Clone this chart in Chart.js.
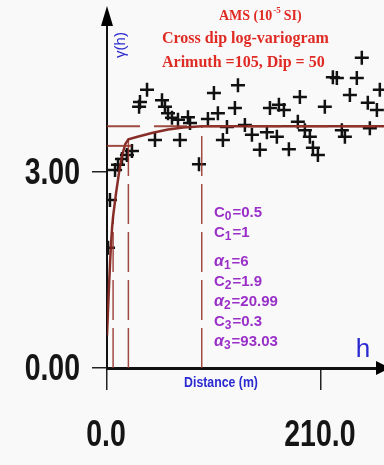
<!DOCTYPE html>
<html>
<head>
<meta charset="utf-8">
<script src="https://cdn.jsdelivr.net/npm/chart.js@4.4.1/dist/chart.umd.min.js"></script>
<style>
  html, body { margin: 0; padding: 0; background: #f9f9f9; }
  canvas { display: block; }
</style>
</head>
<body>
<canvas id="vario" width="384" height="465"></canvas>
<script>
// experimental variogram points (distance in m, gamma)
const lagDist = [1.0, 2.9, 7.9, 10.8, 14.7, 19.6, 24.5, 32.4, 31.5, 39.3, 47.1, 54.0, 56.9, 59.9,
  63.8, 69.7, 71.6, 79.5, 81.5, 90.3, 99.1, 105.0, 108.9, 113.8, 117.8, 125.6, 128.6, 135.4,
  142.3, 150.1, 157.0, 160.0, 168.8, 166.8, 173.7, 178.6, 187.4, 189.4, 194.3, 199.2, 202.2,
  207.1, 213.9, 221.8, 225.7, 230.6, 233.6, 238.5, 245.3, 250.2, 256.1, 258.1, 265.0, 267.9];
const lagGamma = [1.84, 2.57, 3.03, 3.11, 3.20, 3.26, 3.32, 4.07, 4.00, 4.26, 3.49, 4.10, 4.00, 3.90,
  3.83, 3.80, 3.49, 3.84, 3.75, 3.12, 3.81, 4.21, 3.90, 3.49, 3.69, 3.98, 4.33, 3.72,
  3.57, 3.34, 3.61, 3.98, 4.03, 3.54, 3.95, 3.35, 3.77, 4.15, 3.64, 3.54, 3.37,
  3.26, 4.00, 4.45, 4.44, 3.64, 3.54, 4.18, 4.44, 4.75, 4.06, 3.67, 3.95, 4.26];

// fitted model curve
const modelDist = [0, 1, 2, 3, 4, 5, 6, 9, 12, 15, 18, 21, 30, 45, 60, 75, 93, 272];
const modelGamma = [0.5, 0.89, 1.26, 1.61, 1.91, 2.15, 2.32, 2.69, 3.01, 3.26, 3.43, 3.50,
  3.54, 3.60, 3.65, 3.68, 3.70, 3.70];

// model parameters
const paramLabels = [['C', '0'], ['C', '1'], ['\u03b1', '1'], ['C', '2'], ['\u03b1', '2'], ['C', '3'], ['\u03b1', '3']];
const paramValues = ['0.5', '1', '6', '1.9', '20.99', '0.3', '93.03'];
const ranges = [6, 20.99, 93.03];
const rangeTops = [2.32, 3.50, 3.70];
const sill = 3.7;
const partialSill = 3.4;

const xTicks = [0, 210];
const yTicks = [0, 3];

const titleLines = ['Cross dip log-variogram', 'Arimuth =105, Dip = 50'];

const brown = 'rgba(150, 55, 45, 0.9)';
const numFont = 'bold 36px "Liberation Sans", Arial, sans-serif';

const datasets = [
  {
    label: 'sill',
    data: [{ x: 0, y: sill }, { x: 272, y: sill }],
    showLine: true, pointRadius: 0, borderColor: brown, borderWidth: 2, borderDash: [33, 14]
  },
  {
    label: 'partial',
    data: [{ x: 0, y: partialSill }, { x: 24, y: partialSill }],
    showLine: true, pointRadius: 0, borderColor: brown, borderWidth: 2
  },
  {
    label: 'model',
    data: modelDist.map((d, i) => ({ x: d, y: modelGamma[i] })),
    showLine: true, pointRadius: 0, borderColor: 'rgba(130, 35, 30, 0.95)', borderWidth: 2.5
  }
];
ranges.forEach((r, i) => {
  datasets.push({
    label: 'range' + (i + 1),
    data: [{ x: r, y: 0 }, { x: r, y: rangeTops[i] }],
    showLine: true, pointRadius: 0, borderColor: brown, borderWidth: 1.5, borderDash: [40, 8]
  });
});
datasets.push({
  label: 'experimental',
  data: lagDist.map((d, i) => ({ x: d, y: lagGamma[i] })),
  pointStyle: 'cross', pointRadius: 7, borderColor: '#111', borderWidth: 2.5, showLine: false
});

// narrow text: draw squeezed horizontally
function narrowText(ctx, text, x, y, sx, align) {
  ctx.save();
  ctx.translate(x, y);
  ctx.scale(sx, 1);
  ctx.textAlign = align;
  ctx.fillText(text, 0, 0);
  ctx.restore();
}

const decorations = {
  id: 'decorations',
  afterDraw(chart) {
    const ctx = chart.ctx;
    const a = chart.chartArea;
    const xs = chart.scales.x, ys = chart.scales.y;
    ctx.save();
    // y axis arrow
    ctx.fillStyle = '#000';
    ctx.beginPath();
    ctx.moveTo(a.left, 6);
    ctx.lineTo(a.left - 6, 26);
    ctx.lineTo(a.left + 6, 26);
    ctx.closePath();
    ctx.fill();
    // x axis arrow
    ctx.beginPath();
    ctx.moveTo(390, a.bottom);
    ctx.lineTo(376, a.bottom - 7);
    ctx.lineTo(376, a.bottom + 7);
    ctx.closePath();
    ctx.fill();

    // tick labels (condensed)
    ctx.fillStyle = '#151515';
    ctx.textBaseline = 'middle';
    ctx.font = numFont;
    ys.ticks.forEach(t => narrowText(ctx, t.value.toFixed(2), 80, ys.getPixelForValue(t.value) + 2, 0.79, 'right'));
    xs.ticks.forEach(t => narrowText(ctx, t.value.toFixed(1), xs.getPixelForValue(t.value) - 1, 436, 0.79, 'center'));

    // title
    ctx.fillStyle = '#e02a24';
    ctx.textAlign = 'left';
    ctx.font = 'bold 14px "Liberation Serif", serif';
    let x = 219;
    ctx.fillText('AMS (10', x, 16);
    x += ctx.measureText('AMS (10').width + 1;
    ctx.font = 'bold 9px "Liberation Serif", serif';
    ctx.fillText('-5', x, 11);
    x += ctx.measureText('-5').width + 3;
    ctx.font = 'bold 14px "Liberation Serif", serif';
    ctx.fillText('SI)', x, 16);
    ctx.font = 'bold 16px "Liberation Serif", serif';
    titleLines.forEach((t, i) => ctx.fillText(t, 162, 39 + i * 24));

    // axis titles
    ctx.fillStyle = '#2a2ad0';
    ctx.save();
    ctx.translate(121, 45);
    ctx.rotate(-Math.PI / 2);
    ctx.textAlign = 'center';
    ctx.font = '15px "Liberation Sans", sans-serif';
    ctx.fillText('\u03b3(h)', 0, 0);
    ctx.restore();
    ctx.textAlign = 'center';
    ctx.font = '26px "Liberation Sans", sans-serif';
    ctx.fillText('h', 363, 350);
    ctx.font = 'bold 15px "Liberation Sans", sans-serif';
    narrowText(ctx, 'Distance (m)', 221, 383, 0.82, 'center');

    // parameters
    ctx.fillStyle = '#9a30c8';
    ctx.textAlign = 'left';
    const rows = [213, 233, 262, 282, 302, 322, 342];
    paramLabels.forEach((lab, i) => {
      let px = 214;
      const y = rows[i];
      ctx.font = (lab[0] === 'C' ? 'bold 15px' : 'italic bold 16px') + ' "Liberation Sans", sans-serif';
      ctx.fillText(lab[0], px, y);
      px += ctx.measureText(lab[0]).width;
      ctx.font = 'bold 12px "Liberation Sans", sans-serif';
      ctx.fillText(lab[1], px, y + 4);
      px += ctx.measureText(lab[1]).width + 1;
      ctx.font = 'bold 15px "Liberation Sans", sans-serif';
      ctx.fillText('=' + paramValues[i], px, y);
    });
    ctx.restore();
  }
};

new Chart(document.getElementById('vario'), {
  type: 'scatter',
  data: { datasets: datasets },
  options: {
    responsive: false,
    animation: false,
    layout: { autoPadding: false, padding: { top: 10, right: 0, left: 0, bottom: 0 } },
    plugins: { legend: { display: false }, tooltip: { enabled: false } },
    scales: {
      x: {
        type: 'linear', min: 0, max: 272,
        afterBuildTicks: s => { s.ticks = xTicks.map(v => ({ value: v })); },
        afterFit: s => { s.height = 97; s.paddingLeft = 0; s.paddingRight = 0; },
        ticks: { display: false },
        grid: { drawOnChartArea: false, tickLength: 22, color: '#222', lineWidth: 1.5 },
        border: { color: '#111', width: 3 }
      },
      y: {
        type: 'linear', min: 0, max: 5.48,
        afterBuildTicks: s => { s.ticks = yTicks.map(v => ({ value: v })); },
        afterFit: s => { s.width = 107; s.paddingTop = 0; s.paddingBottom = 0; },
        ticks: { display: false },
        grid: { drawOnChartArea: false, tickLength: 15, color: '#222', lineWidth: 1.5 },
        border: { color: '#111', width: 2 }
      }
    }
  },
  plugins: [decorations]
});
</script>
</body>
</html>
